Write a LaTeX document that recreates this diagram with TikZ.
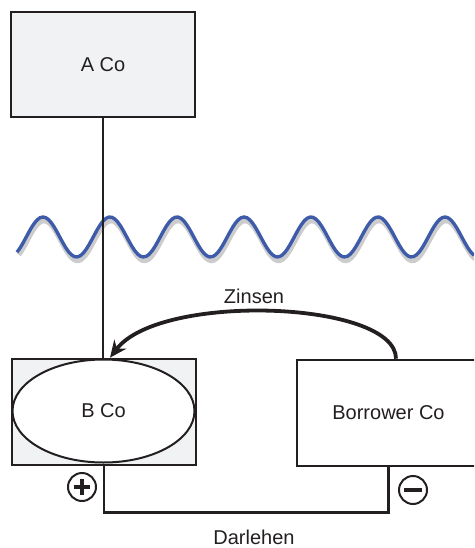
\documentclass[tikz,border=0pt]{standalone}
\usepackage{fontspec}
\setmainfont{Liberation Sans}
\usepackage{tikz}
\usetikzlibrary{positioning,arrows.meta,shapes.geometric}

\definecolor{boxgray}{HTML}{F1F2F4}
\definecolor{inkline}{HTML}{231F20}
\definecolor{waveblue}{HTML}{3E5BA9}

\begin{document}
\begin{tikzpicture}[
  x=1pt, y=-1pt,
  font=\fontsize{20}{24}\selectfont,
  text=inkline,
  box/.style={draw=inkline, line width=2.6pt, inner sep=0pt, minimum width=#1, minimum height=105pt},
  box/.default=184pt,
  oval/.style={draw=inkline, ellipse, line width=2pt, fill=white, inner sep=0pt, minimum width=182pt, minimum height=103pt},
  sign/.style={draw=inkline, circle, line width=2pt, inner sep=0pt, minimum size=28pt},
  bar/.style={line width=3.4pt, inkline},
  link/.style={draw=inkline, line width=2.6pt},
  arr/.style={draw=inkline, line width=3.8pt, -{Stealth[length=17pt, width=15pt]}},
  wave/.style={line width=3.4pt, waveblue},
  waveshadow/.style={line width=4.5pt, black, opacity=0.2},
]
\useasboundingbox (0,0) rectangle (474,548);
\clip (0,0) rectangle (474,548);

% Companies
\node[box, fill=boxgray] (aco) at (103,64.5) {A Co};
\node[box, fill=boxgray, minimum height=106pt] (bbox) at (104,412) {};
\node[oval] (bco) at (103.5,411) {B Co};
\node[box=183pt, fill=white, minimum height=106pt] (borrower) at (388.5,413) {Borrower Co};

% Border
\draw[waveshadow] plot[domain=18:474, samples=160] (\x+1, {241 - 20*cos(5.3731*(\x-43))});
\draw[wave] plot[domain=17:474, samples=160] (\x, {237 - 20*cos(5.3731*(\x-43))});

% Ownership
\draw[link] (aco.south) -- (aco.south |- bbox.north);

% Interest
\coordinate (zstart) at ([xshift=7.5pt]borrower.north);
\coordinate (zend) at ([xshift=6pt]bbox.north);
\draw[arr] (zstart) .. controls ([yshift=58pt]zstart) and (160,292) .. (zend);
\node (zinsen) at (254,296) {Zinsen};

% Loan
\draw[link] (bbox.south) -- ++(0,46) -| (borrower.south);
\node (darlehen) at (254,537) {Darlehen};

% Signs
\node[sign, path picture={
  \draw[bar] ([xshift=-8pt]path picture bounding box.center) -- ([xshift=8pt]path picture bounding box.center);
  \draw[bar] ([yshift=-8pt]path picture bounding box.center) -- ([yshift=8pt]path picture bounding box.center);
}] (plus) at (82,487) {};
\node[sign, path picture={
  \draw[bar] ([xshift=-9pt]path picture bounding box.center) -- ([xshift=9pt]path picture bounding box.center);
}] (minus) at (413,490) {};
\end{tikzpicture}
\end{document}
